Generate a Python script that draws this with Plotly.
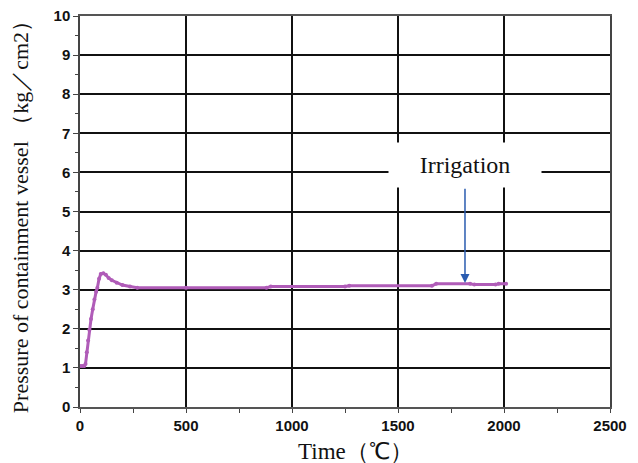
import plotly.graph_objects as go

# Data
time_s = [0, 10, 20, 26, 32, 38, 44, 52, 60, 68, 76, 82, 90, 98, 110, 122, 135, 150, 173, 200, 236, 270,
          500, 880, 900, 1250, 1270, 1660, 1680, 1840, 1860, 1960, 1975, 2010]
pressure = [1.05, 1.05, 1.05, 1.1, 1.4, 1.7, 1.97, 2.25, 2.5, 2.75, 2.95, 3.05, 3.28, 3.4, 3.42, 3.38, 3.3, 3.24, 3.18, 3.12, 3.08, 3.05,
            3.05, 3.05, 3.08, 3.08, 3.1, 3.1, 3.15, 3.15, 3.13, 3.13, 3.15, 3.15]

x_ticks = [0, 500, 1000, 1500, 2000, 2500]
y_ticks = list(range(0, 11))

x_title = "Time（℃）"
y_title = "Pressure of containment vessel （kg／cm2）"
note_text = "Irrigation"
arrow_x = 1816
arrow_from_y = 5.62
arrow_to_y = 3.17
note_y = 6.18

fig = go.Figure()
fig.add_trace(go.Scatter(
    x=time_s, y=pressure, mode="lines+markers",
    line=dict(color="#B05CB8", width=3),
    marker=dict(color="#B05CB8", size=4),
    showlegend=False, hoverinfo="skip"))

fig.add_annotation(
    x=arrow_x, y=arrow_to_y, ax=arrow_x, ay=arrow_from_y,
    xref="x", yref="y", axref="x", ayref="y",
    text="", showarrow=True, arrowhead=2, arrowsize=1.2,
    arrowwidth=1.5, arrowcolor="#2A5CB0")

fig.add_annotation(
    x=arrow_x, y=note_y, xref="x", yref="y",
    text=note_text, showarrow=False,
    font=dict(family="Liberation Serif", size=24, color="#111"),
    bgcolor="white", width=134, height=26, borderpad=9)

# x-axis title (placed slightly right of centre as in the reference)
fig.add_annotation(
    x=0.52, y=-0.115, xref="paper", yref="paper",
    xanchor="center", yanchor="middle",
    text=x_title, showarrow=False,
    font=dict(family="Liberation Serif", size=23, color="#111"))

fig.update_layout(
    width=630, height=455,
    margin=dict(l=72, r=28, t=8, b=56),
    paper_bgcolor="white", plot_bgcolor="white",
    xaxis=dict(
        range=[0, 2500], tickvals=x_ticks, ticktext=[str(v) for v in x_ticks],
        automargin=False, ticklabeloverflow="allow",
        showgrid=True, gridcolor="#111", gridwidth=1.5,
        showline=True, linecolor="#555", linewidth=1.5, mirror=True,
        ticks="outside", ticklen=4, tickcolor="#444",
        minor=dict(dtick=250, ticks="outside", ticklen=4, tickcolor="#444", showgrid=False),
        tickfont=dict(family="Liberation Sans", size=15, color="#111", weight="bold"),
        zeroline=False),
    yaxis=dict(
        range=[0, 10], tickvals=y_ticks, ticktext=[str(v) for v in y_ticks],
        automargin=False, ticklabeloverflow="allow",
        showgrid=True, gridcolor="#111", gridwidth=1.5,
        showline=True, linecolor="#444", linewidth=1.5, mirror=True,
        ticks="outside", ticklen=5, tickcolor="#444",
        minor=dict(dtick=0.5, ticks="outside", ticklen=3, tickcolor="#444", showgrid=False),
        tickfont=dict(family="Liberation Sans", size=15, color="#111", weight="bold"),
        title=dict(text=y_title,
                   font=dict(family="Liberation Serif", size=22, color="#111"), standoff=27),
        zeroline=False),
)

fig.write_html("out.html")
